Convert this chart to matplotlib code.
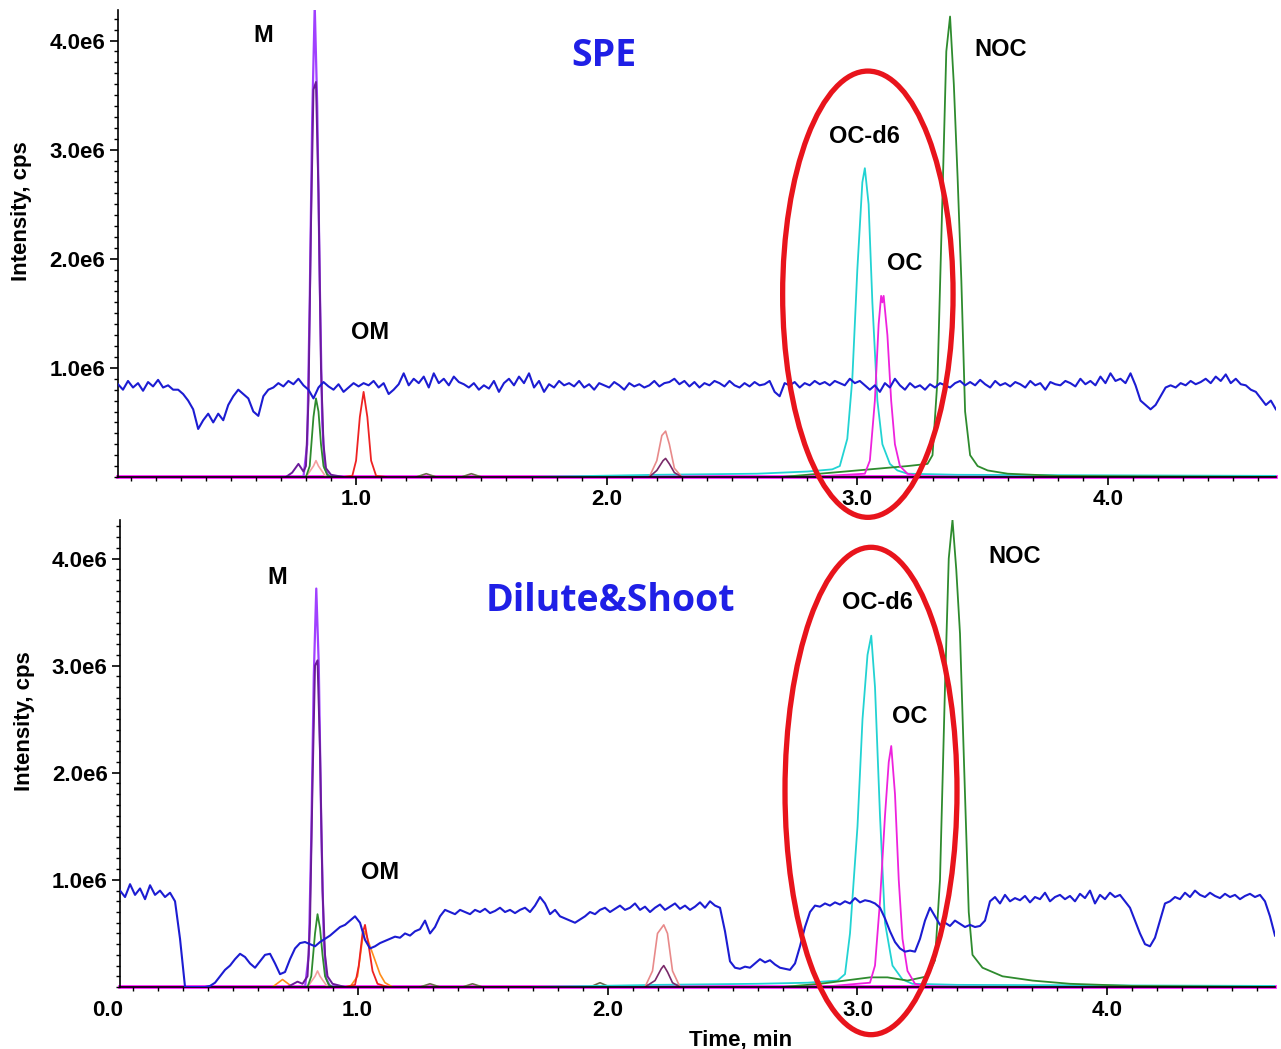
import numpy as np
import matplotlib
matplotlib.use('Agg')
import matplotlib.pyplot as plt
from matplotlib.patches import Ellipse
from matplotlib.ticker import MultipleLocator
import matplotlib.transforms as mtransforms

# all intensities in 1e6 cps, times in min
T0, DT = 0.05, 0.02

# ---------------- SPE (top) ----------------
spe_blue = [
    0.85, 0.80, 0.88, 0.82, 0.86, 0.79, 0.87, 0.83, 0.89, 0.82,
    0.84, 0.80, 0.80, 0.76, 0.70, 0.62, 0.44, 0.52, 0.58, 0.50,
    0.58, 0.52, 0.66, 0.74, 0.80, 0.76, 0.72, 0.60, 0.56, 0.74,
    0.80, 0.82, 0.86, 0.83, 0.88, 0.85, 0.90, 0.84, 0.80, 0.72,
    0.82, 0.87, 0.83, 0.80, 0.85, 0.78, 0.82, 0.86, 0.83, 0.86,
    0.84, 0.88, 0.82, 0.86, 0.76, 0.80, 0.85, 0.95, 0.84, 0.90,
    0.86, 0.92, 0.82, 0.95, 0.86, 0.90, 0.84, 0.92, 0.87, 0.85,
    0.82, 0.86, 0.80, 0.84, 0.81, 0.88, 0.78, 0.86, 0.90, 0.84,
    0.92, 0.86, 0.95, 0.82, 0.88, 0.78, 0.85, 0.82, 0.88, 0.84,
    0.86, 0.83, 0.88, 0.82, 0.85, 0.80, 0.86, 0.84, 0.82, 0.87,
    0.84, 0.80, 0.86, 0.83, 0.85, 0.82, 0.84, 0.88, 0.83, 0.86,
    0.87, 0.90, 0.85, 0.88, 0.83, 0.87, 0.82, 0.86, 0.84, 0.88,
    0.86, 0.83, 0.88, 0.84, 0.82, 0.86, 0.83, 0.87, 0.84, 0.85,
    0.88, 0.78, 0.74, 0.86, 0.84, 0.87, 0.82, 0.86, 0.84, 0.88,
    0.85, 0.87, 0.84, 0.88, 0.86, 0.84, 0.90, 0.86, 0.88, 0.84,
    0.80, 0.84, 0.78, 0.86, 0.82, 0.90, 0.84, 0.80, 0.86, 0.82,
    0.84, 0.80, 0.85, 0.82, 0.86, 0.84, 0.82, 0.86, 0.88, 0.84,
    0.87, 0.84, 0.89, 0.85, 0.82, 0.88, 0.84, 0.86, 0.83, 0.87,
    0.85, 0.82, 0.88, 0.84, 0.86, 0.80, 0.87, 0.85, 0.84, 0.88,
    0.86, 0.83, 0.90, 0.85, 0.88, 0.84, 0.92, 0.86, 0.95, 0.88,
    0.90, 0.86, 0.95, 0.84, 0.70, 0.66, 0.62, 0.66, 0.74, 0.82,
    0.84, 0.82, 0.86, 0.84, 0.88, 0.85, 0.87, 0.90, 0.86, 0.92,
    0.88, 0.94, 0.86, 0.90, 0.85, 0.84, 0.80, 0.78, 0.72, 0.66,
    0.70, 0.62,
]

spe_m_t = [0.70, 0.79, 0.805, 0.815, 0.825, 0.835, 0.845, 0.855, 0.865, 0.875, 0.89, 0.95]
spe_m_v = [0, 0, 0.3, 1.6, 3.3, 4.32, 3.4, 1.8, 0.5, 0.08, 0.01, 0]
spe_m2_t = [0.72, 0.745, 0.77, 0.79, 0.80, 0.81, 0.82, 0.83, 0.84, 0.85, 0.86, 0.87, 0.88, 0.90, 0.95]
spe_m2_v = [0, 0.04, 0.12, 0.05, 0.1, 0.7, 2.3, 3.55, 3.62, 2.6, 1.0, 0.3, 0.08, 0.02, 0]
spe_gm_t = [0.80, 0.815, 0.83, 0.84, 0.85, 0.86, 0.87, 0.885, 0.90]
spe_gm_v = [0, 0.1, 0.55, 0.72, 0.6, 0.3, 0.1, 0.02, 0]
spe_pm_t = [0.80, 0.83, 0.84, 0.85, 0.88]
spe_pm_v = [0, 0.1, 0.15, 0.1, 0]
spe_om_t = [0.95, 0.985, 1.0, 1.015, 1.03, 1.045, 1.06, 1.08, 1.12]
spe_om_v = [0, 0.01, 0.15, 0.55, 0.78, 0.55, 0.15, 0.01, 0]
spe_sal_t = [2.17, 2.20, 2.22, 2.235, 2.25, 2.27, 2.30]
spe_sal_v = [0, 0.15, 0.38, 0.42, 0.3, 0.08, 0]
spe_plum_t = [2.17, 2.20, 2.225, 2.235, 2.25, 2.27, 2.30]
spe_plum_v = [0, 0.06, 0.15, 0.17, 0.12, 0.04, 0]
spe_grey_t = [1.24, 1.28, 1.32, 1.42, 1.46, 1.50]
spe_grey_v = [0, 0.03, 0, 0, 0.03, 0]
spe_cy_t = [1.70, 2.2, 2.6, 2.80, 2.90, 2.93, 2.96, 2.98, 3.00, 3.02, 3.03, 3.045, 3.06,
            3.08, 3.10, 3.13, 3.16, 3.20, 3.40, 4.67]
spe_cy_v = [0, 0.02, 0.03, 0.05, 0.07, 0.10, 0.35, 0.9, 1.9, 2.7, 2.83, 2.5, 1.6,
            0.7, 0.3, 0.12, 0.06, 0.03, 0.02, 0.01]
spe_oc_t = [2.80, 3.03, 3.05, 3.07, 3.085, 3.095, 3.10, 3.105, 3.12, 3.135, 3.15, 3.17, 3.20, 3.26]
spe_oc_v = [0, 0.03, 0.15, 0.7, 1.4, 1.66, 1.6, 1.66, 1.3, 0.7, 0.3, 0.1, 0.03, 0]
spe_noc_t = [2.70, 2.80, 2.90, 3.00, 3.10, 3.20, 3.28, 3.30, 3.32, 3.34, 3.355, 3.37, 3.385,
             3.40, 3.415, 3.43, 3.45, 3.48, 3.52, 3.60, 3.80, 4.20, 4.67]
spe_noc_v = [0, 0.02, 0.04, 0.06, 0.08, 0.1, 0.12, 0.2, 0.9, 2.6, 3.9, 4.22, 3.6,
             2.75, 1.8, 0.6, 0.2, 0.1, 0.06, 0.03, 0.01, 0.005, 0]

# ---------------- Dilute&Shoot (bottom) ----------------
ds_blue = [
    0.90, 0.84, 0.96, 0.86, 0.92, 0.82, 0.95, 0.86, 0.90, 0.84,
    0.88, 0.80, 0.45, 0.00, 0.00, 0.00, 0.00, 0.00, 0.01, 0.04,
    0.10, 0.16, 0.20, 0.26, 0.31, 0.28, 0.22, 0.18, 0.24, 0.30,
    0.31, 0.22, 0.12, 0.14, 0.26, 0.36, 0.41, 0.42, 0.40, 0.38,
    0.42, 0.45, 0.48, 0.52, 0.56, 0.58, 0.62, 0.66, 0.60, 0.44,
    0.36, 0.38, 0.41, 0.43, 0.45, 0.47, 0.46, 0.50, 0.48, 0.52,
    0.54, 0.62, 0.50, 0.56, 0.66, 0.72, 0.70, 0.68, 0.72, 0.70,
    0.68, 0.72, 0.70, 0.73, 0.69, 0.71, 0.74, 0.70, 0.72, 0.69,
    0.72, 0.74, 0.70, 0.76, 0.84, 0.78, 0.68, 0.72, 0.66, 0.64,
    0.62, 0.60, 0.63, 0.66, 0.70, 0.68, 0.72, 0.74, 0.70, 0.73,
    0.76, 0.72, 0.74, 0.78, 0.72, 0.75, 0.70, 0.74, 0.77, 0.72,
    0.75, 0.78, 0.73, 0.76, 0.72, 0.75, 0.79, 0.74, 0.80, 0.76,
    0.74, 0.52, 0.24, 0.18, 0.17, 0.19, 0.18, 0.22, 0.26, 0.23,
    0.25, 0.21, 0.18, 0.17, 0.16, 0.22, 0.38, 0.56, 0.70, 0.76,
    0.75, 0.78, 0.76, 0.79, 0.77, 0.80, 0.78, 0.83, 0.79, 0.81,
    0.80, 0.78, 0.74, 0.64, 0.52, 0.42, 0.36, 0.33, 0.34, 0.33,
    0.45, 0.62, 0.74, 0.66, 0.58, 0.60, 0.57, 0.62, 0.59, 0.56,
    0.58, 0.56, 0.57, 0.62, 0.80, 0.84, 0.78, 0.86, 0.80, 0.83,
    0.81, 0.85, 0.79, 0.84, 0.82, 0.88, 0.80, 0.84, 0.86, 0.82,
    0.85, 0.80, 0.87, 0.83, 0.90, 0.78, 0.86, 0.82, 0.88, 0.84,
    0.86, 0.80, 0.74, 0.62, 0.50, 0.40, 0.38, 0.46, 0.62, 0.78,
    0.80, 0.84, 0.82, 0.88, 0.84, 0.90, 0.86, 0.84, 0.88, 0.85,
    0.83, 0.87, 0.84, 0.86, 0.82, 0.85, 0.87, 0.84, 0.86, 0.80,
    0.66, 0.48,
]

ds_m_t = [0.70, 0.79, 0.805, 0.815, 0.825, 0.835, 0.845, 0.855, 0.865, 0.875, 0.89, 0.95]
ds_m_v = [0, 0, 0.3, 1.4, 2.9, 3.72, 3.0, 1.5, 0.45, 0.08, 0.01, 0]
ds_m2_t = [0.72, 0.76, 0.78, 0.80, 0.81, 0.82, 0.83, 0.84, 0.85, 0.86, 0.87, 0.88, 0.90, 0.95]
ds_m2_v = [0, 0.05, 0.03, 0.1, 0.6, 1.9, 3.0, 3.05, 2.2, 0.9, 0.3, 0.1, 0.03, 0]
ds_gm_t = [0.80, 0.815, 0.83, 0.84, 0.85, 0.86, 0.87, 0.885, 0.90]
ds_gm_v = [0, 0.1, 0.5, 0.68, 0.55, 0.3, 0.1, 0.02, 0]
ds_pm_t = [0.80, 0.83, 0.84, 0.85, 0.88]
ds_pm_v = [0, 0.1, 0.15, 0.1, 0]
ds_os_t = [0.66, 0.70, 0.74]
ds_os_v = [0, 0.07, 0]
ds_om_t = [0.95, 0.99, 1.005, 1.02, 1.03, 1.045, 1.06, 1.08, 1.12]
ds_om_v = [0, 0.02, 0.2, 0.5, 0.58, 0.38, 0.15, 0.03, 0]
ds_oo_t = [0.97, 1.00, 1.02, 1.03, 1.05, 1.07, 1.09, 1.11, 1.14]
ds_oo_v = [0, 0.1, 0.45, 0.52, 0.38, 0.25, 0.12, 0.04, 0]
ds_sal_t = [2.15, 2.18, 2.20, 2.225, 2.24, 2.26, 2.29]
ds_sal_v = [0, 0.15, 0.5, 0.58, 0.5, 0.15, 0]
ds_plum_t = [2.15, 2.19, 2.215, 2.225, 2.24, 2.26, 2.29]
ds_plum_v = [0, 0.06, 0.17, 0.2, 0.14, 0.04, 0]
ds_grey_t = [1.25, 1.29, 1.33, 1.42, 1.46, 1.50, 1.93, 1.97, 2.01]
ds_grey_v = [0, 0.03, 0, 0, 0.03, 0, 0, 0.04, 0]
ds_cy_t = [1.70, 2.2, 2.6, 2.80, 2.92, 2.95, 2.97, 3.00, 3.02, 3.04, 3.055, 3.07, 3.09,
           3.11, 3.14, 3.18, 3.22, 3.40, 4.67]
ds_cy_v = [0, 0.02, 0.03, 0.04, 0.06, 0.12, 0.5, 1.5, 2.5, 3.1, 3.28, 2.8, 1.6,
           0.6, 0.2, 0.07, 0.03, 0.02, 0.01]
ds_oc_t = [2.85, 3.05, 3.07, 3.09, 3.11, 3.125, 3.135, 3.15, 3.165, 3.18, 3.20, 3.23, 3.28]
ds_oc_v = [0, 0.04, 0.2, 0.8, 1.6, 2.1, 2.25, 1.8, 1.0, 0.45, 0.15, 0.03, 0]
ds_noc_t = [2.70, 2.85, 2.95, 3.05, 3.12, 3.20, 3.28, 3.31, 3.33, 3.35, 3.365, 3.38, 3.395,
            3.41, 3.43, 3.445, 3.46, 3.50, 3.58, 3.70, 3.85, 4.10, 4.67]
ds_noc_v = [0, 0.03, 0.06, 0.09, 0.09, 0.06, 0.1, 0.25, 1.0, 2.8, 4.0, 4.36, 3.9,
            3.3, 1.8, 0.7, 0.3, 0.18, 0.1, 0.06, 0.03, 0.01, 0]

ytick_vals = [1, 2, 3, 4]
ytick_labels = ['1.0e6', '2.0e6', '3.0e6', '4.0e6']
xtick_vals = [1, 2, 3, 4]
xtick_labels = ['1.0', '2.0', '3.0', '4.0']

BLUE = '#1c1cd2'
VIOLET = '#a040ff'
PURPLE = '#6a1b9a'
GREEN = '#2e8b2e'
PINK = '#f5a0a0'
RED = '#ee2222'
ORANGE = '#ff8c1a'
SALMON = '#e88a8a'
PLUM = '#7a2a6a'
GREY = '#6b6b4a'
CYAN = '#22d3d3'
MAGENTA = '#ee22dd'
ELLIPSE_RED = '#e8141c'

FONT = 'Liberation Sans'
plt.rcParams['font.family'] = [FONT, 'DejaVu Sans']

fig = plt.figure(figsize=(12.81, 10.49), dpi=100)
ax_top = fig.add_axes([0.0921, 0.5453, 0.9039, 0.4452])
ax_bot = fig.add_axes([0.0937, 0.0591, 0.9016, 0.4452])


def draw_panel(ax, blue, traces, ymax):
    t = T0 + DT * np.arange(len(blue))
    ax.axhline(0, color='#ff00ff', lw=2.6, zorder=1, clip_on=False)
    for tt, vv, col, lw in traces:
        ax.plot(tt, vv, color=col, lw=lw, zorder=2)
    ax.plot(t, blue, color=BLUE, lw=1.5, zorder=3)
    ax.set_xlim(0.05, 4.67)
    ax.set_ylim(0, ymax)
    ax.set_facecolor('none')
    for s in ['top', 'right']:
        ax.spines[s].set_visible(False)
    for s in ['left', 'bottom']:
        ax.spines[s].set_linewidth(1.2)
    ax.set_yticks(ytick_vals)
    ax.set_yticklabels(ytick_labels)
    ax.set_xticks(xtick_vals)
    ax.set_xticklabels(xtick_labels)
    ax.yaxis.set_minor_locator(MultipleLocator(0.1))
    ax.xaxis.set_minor_locator(MultipleLocator(0.1))
    ax.tick_params(which='major', length=6, width=1.2, labelsize=16, pad=3)
    ax.tick_params(which='minor', length=3, width=1.0)
    for lab in ax.get_xticklabels() + ax.get_yticklabels():
        lab.set_fontweight('bold')
    ax.set_ylabel('Intensity, cps', fontsize=16, fontweight='bold')
    ax.yaxis.set_label_coords(-0.074, 0.57)


def lbl(ax, x, y, s, size=17, color='black', family=FONT):
    ax.text(x, y, s, ha='center', va='center', fontsize=size, fontweight='bold',
            color=color, family=family)


top_traces = [
    (spe_grey_t, spe_grey_v, GREY, 1.2),
    (spe_cy_t, spe_cy_v, CYAN, 1.3),
    (spe_noc_t, spe_noc_v, GREEN, 1.3),
    (spe_oc_t, spe_oc_v, MAGENTA, 1.3),
    (spe_sal_t, spe_sal_v, SALMON, 1.2),
    (spe_plum_t, spe_plum_v, PLUM, 1.2),
    (spe_om_t, spe_om_v, RED, 1.3),
    (spe_pm_t, spe_pm_v, PINK, 1.2),
    (spe_m_t, spe_m_v, VIOLET, 1.6),
    (spe_m2_t, spe_m2_v, PURPLE, 1.4),
    (spe_gm_t, spe_gm_v, GREEN, 1.3),
]
bot_traces = [
    (ds_grey_t, ds_grey_v, GREY, 1.2),
    (ds_cy_t, ds_cy_v, CYAN, 1.3),
    (ds_noc_t, ds_noc_v, GREEN, 1.3),
    (ds_oc_t, ds_oc_v, MAGENTA, 1.3),
    (ds_sal_t, ds_sal_v, SALMON, 1.2),
    (ds_plum_t, ds_plum_v, PLUM, 1.2),
    (ds_os_t, ds_os_v, ORANGE, 1.2),
    (ds_oo_t, ds_oo_v, ORANGE, 1.2),
    (ds_om_t, ds_om_v, RED, 1.3),
    (ds_pm_t, ds_pm_v, PINK, 1.2),
    (ds_m_t, ds_m_v, VIOLET, 1.6),
    (ds_m2_t, ds_m2_v, PURPLE, 1.4),
    (ds_gm_t, ds_gm_v, GREEN, 1.3),
]

draw_panel(ax_top, spe_blue, top_traces, 4.28)
draw_panel(ax_bot, ds_blue, bot_traces, 4.36)

# "0.0" label sits left of where the trace starts
trans = mtransforms.blended_transform_factory(ax_bot.transData, ax_bot.transAxes)
ax_bot.text(0.0, -0.028, '0.0', transform=trans, ha='center', va='top',
            fontsize=16, fontweight='bold', clip_on=False)
ax_bot.set_xlabel('Time, min', fontsize=16, fontweight='bold')
ax_bot.xaxis.set_label_coords(0.537, -0.09)

# peak labels
lbl(ax_top, 0.63, 4.05, 'M')
lbl(ax_top, 1.054, 1.32, 'OM')
lbl(ax_top, 3.03, 3.12, 'OC-d6')
lbl(ax_top, 3.19, 1.96, 'OC')
lbl(ax_top, 3.57, 3.92, 'NOC')
lbl(ax_top, 1.99, 3.86, 'SPE', size=27, color='#1f1fe6', family='Open Sans')

lbl(ax_bot, 0.68, 3.82, 'M')
lbl(ax_bot, 1.09, 1.07, 'OM')
lbl(ax_bot, 3.08, 3.59, 'OC-d6')
lbl(ax_bot, 3.21, 2.53, 'OC')
lbl(ax_bot, 3.63, 4.02, 'NOC')
lbl(ax_bot, 2.01, 3.60, 'Dilute&Shoot', size=27, color='#1f1fe6', family='Open Sans')

# red highlight rings
ax_top.add_patch(Ellipse((3.042, 1.675), 0.68, 4.09, fill=False, ec=ELLIPSE_RED,
                         lw=3.8, zorder=10, clip_on=False))
ax_bot.add_patch(Ellipse((3.054, 1.83), 0.688, 4.55, fill=False, ec=ELLIPSE_RED,
                         lw=3.8, zorder=10, clip_on=False))

fig.savefig('out.png', dpi=100)
plt.close(fig)
